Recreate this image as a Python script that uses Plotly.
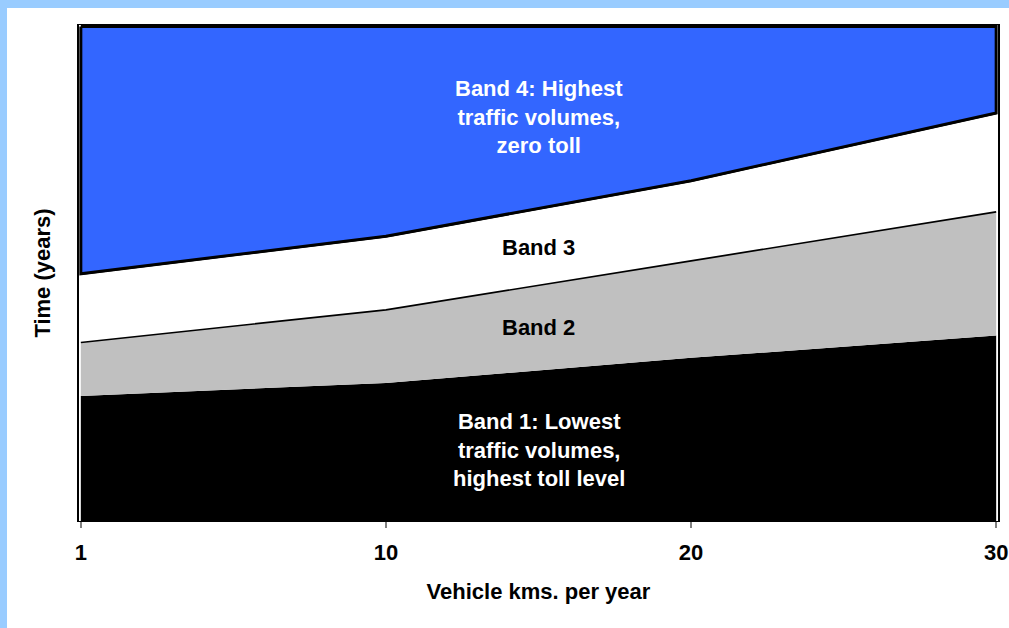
import numpy as np
import plotly.graph_objects as go

categories = ["1", "10", "20", "30"]
band1 = [25.3, 27.9, 33.0, 37.5]
band2 = [10.8, 14.8, 19.6, 25.0]
band3 = [13.9, 14.9, 16.2, 20.0]
y_max = 100.0

band_labels = [
    "Band 1: Lowest<br>traffic volumes,<br>highest toll level",
    "Band 2",
    "Band 3",
    "Band 4: Highest<br>traffic volumes,<br>zero toll",
]
label_y = [14.4, 39.1, 55.3, 81.6]
label_colors = ["white", "black", "black", "white"]

top1 = np.array(band1)
top2 = top1 + np.array(band2)
top3 = top2 + np.array(band3)
idx = list(range(len(categories)))

FONT = "Liberation Sans, Arial, sans-serif"
FS = 22

fig = go.Figure()
fig.add_trace(go.Scatter(x=idx, y=[0] * len(idx), mode="lines",
                         line=dict(width=0), showlegend=False, hoverinfo="skip"))
fig.add_trace(go.Scatter(x=idx, y=top1, mode="lines", fill="tonexty",
                         fillcolor="#000000", line=dict(width=0, color="#000000"),
                         showlegend=False))
fig.add_trace(go.Scatter(x=idx, y=top2, mode="lines", fill="tonexty",
                         fillcolor="#C0C0C0", line=dict(width=1.7, color="#000000"),
                         showlegend=False))
fig.add_trace(go.Scatter(x=idx, y=top3, mode="lines", fill="tonexty",
                         fillcolor="#FFFFFF", line=dict(width=2.5, color="#000000"),
                         showlegend=False))
# Band 4 region (outlined)
poly_x = idx + idx[::-1] + [idx[0]]
poly_y = [y_max] * len(idx) + list(top3[::-1]) + [y_max]
fig.add_trace(go.Scatter(x=poly_x, y=poly_y, mode="lines", fill="toself",
                         fillcolor="#3366FF", line=dict(width=3, color="#000000"),
                         showlegend=False))

for text, yv, col in zip(band_labels, label_y, label_colors):
    fig.add_annotation(x=0.5, xref="paper", y=yv, yref="y", text=text,
                       showarrow=False, align="center",
                       font=dict(family=FONT, size=FS, color=col, weight=700))

fig.update_layout(
    width=1009, height=628,
    margin=dict(l=79, r=11, t=25, b=107, autoexpand=False),
    paper_bgcolor="white", plot_bgcolor="white",
    font=dict(family=FONT, size=FS, color="black"),
    shapes=[
        dict(type="rect", xref="paper", yref="paper", x0=-79 / 919, x1=1.05,
             y0=1 + 17 / 496, y1=1 + 25 / 496, fillcolor="#99CCFF", line=dict(width=0),
             layer="below"),
        dict(type="rect", xref="paper", yref="paper", x0=-79 / 919, x1=-72 / 919,
             y0=-107 / 496, y1=1 + 25 / 496, fillcolor="#99CCFF", line=dict(width=0),
             layer="below"),
    ],
)
fig.update_xaxes(
    range=[-0.006, 3.006], tickmode="array", tickvals=idx, ticktext=categories,
    automargin=False,
    showgrid=False, zeroline=False, showline=True, linecolor="black", linewidth=1,
    mirror=True, ticks="outside", ticklen=6, tickcolor="#808080", tickwidth=1.5,
    ticklabelstandoff=6,
    tickfont=dict(family=FONT, size=FS, color="black", weight=700),
    title=dict(text="Vehicle kms. per year", standoff=19,
               font=dict(family=FONT, size=FS, color="black", weight=700)),
)
fig.update_yaxes(
    range=[0, y_max + 0.3], showticklabels=False, showgrid=False, zeroline=False,
    automargin=False,
    showline=True, linecolor="black", linewidth=2, mirror=True, ticks="",
    title=dict(text="Time (years)", standoff=20,
               font=dict(family=FONT, size=FS, color="black", weight=700)),
)

fig.write_html("out.html")
